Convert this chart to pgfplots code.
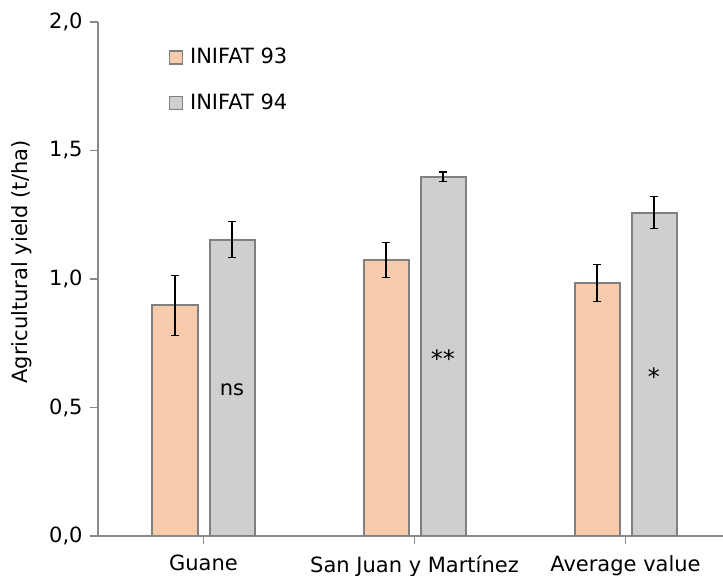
\documentclass[border=0pt]{standalone}
\usepackage{fontspec}
\setmainfont{DejaVu Sans}
\usepackage{pgfplots}
\pgfplotsset{compat=1.18}
\definecolor{cOr}{HTML}{F8CBAD}
\definecolor{cGr}{HTML}{D0CECE}
\definecolor{cEdge}{HTML}{808080}
\definecolor{cAxis}{HTML}{898989}
\begin{document}
\fontsize{10.5}{12.6}\selectfont
\begin{tikzpicture}
\path[use as bounding box] (0,0) rectangle (361.5pt,288pt);
\begin{axis}[
  at={(49pt,20pt)}, anchor=south west,
  scale only axis, width=316.5pt, height=257pt,
  xmin=-0.5, xmax=2.5, ymin=0, ymax=2,
  axis x line*=bottom, axis y line*=left,
  ybar=6pt, bar width=22.5pt,
  xtick={0,1,2}, xticklabels={Guane, San Juan y Martínez, Average value},
  ytick={0,0.5,1,1.5,2},
  tick align=outside, major tick length=4pt,
  tick style={cAxis, line width=0.75pt},
  axis line style={cAxis, line width=0.75pt},
  /pgf/number format/assume math mode=true,
  yticklabel style={/pgf/number format/.cd, fixed, fixed zerofill, precision=1, use comma, assume math mode=true},
  ticklabel style={font=\fontsize{10.5}{12.6}\selectfont},
  xticklabel style={yshift=-2pt},
  ylabel={Agricultural yield (t/ha)},
  ylabel style={at={(axis description cs:-0.12,0.533)}, anchor=center, font=\fontsize{10.5}{12.6}\selectfont},
  legend style={at={(axis description cs:0.111,0.958)}, anchor=north west, draw=none, fill=none, row sep=9.5pt, font=\fontsize{10.5}{12.6}\selectfont, inner sep=0pt, nodes={inner xsep=3.5pt}},
  legend cell align=left,
  legend image code/.code={\draw[#1, draw=cEdge, line width=0.7pt] (0pt,-3.25pt) rectangle (6.5pt,3.25pt);},
  error bars/y dir=both, error bars/y explicit,
  error bars/error bar style={black, line width=0.6pt},
  error bars/error mark options={rotate=90, black, mark size=2.2pt, line width=0.6pt},
]
\addplot[fill=cOr, draw=cEdge, line width=1pt] coordinates {(0,0.898) +- (0,0.117) (1,1.074) +- (0,0.067) (2,0.984) +- (0,0.072)};
\addplot[fill=cGr, draw=cEdge, line width=1pt] coordinates {(0,1.153) +- (0,0.070) (1,1.398) +- (0,0.018) (2,1.258) +- (0,0.063)};
\legend{INIFAT 93, INIFAT 94}
\node[anchor=base] at (axis cs:0.135,0.545) {ns};
\node[anchor=base, font=\fontsize{12}{14}\selectfont] at (axis cs:1.135,0.655) {**};
\node[anchor=base, font=\fontsize{12}{14}\selectfont] at (axis cs:2.135,0.585) {*};
\draw[cAxis, line width=0.75pt] (rel axis cs:0,0) -- ++(-3pt,0);
\end{axis}
\end{tikzpicture}
\end{document}
